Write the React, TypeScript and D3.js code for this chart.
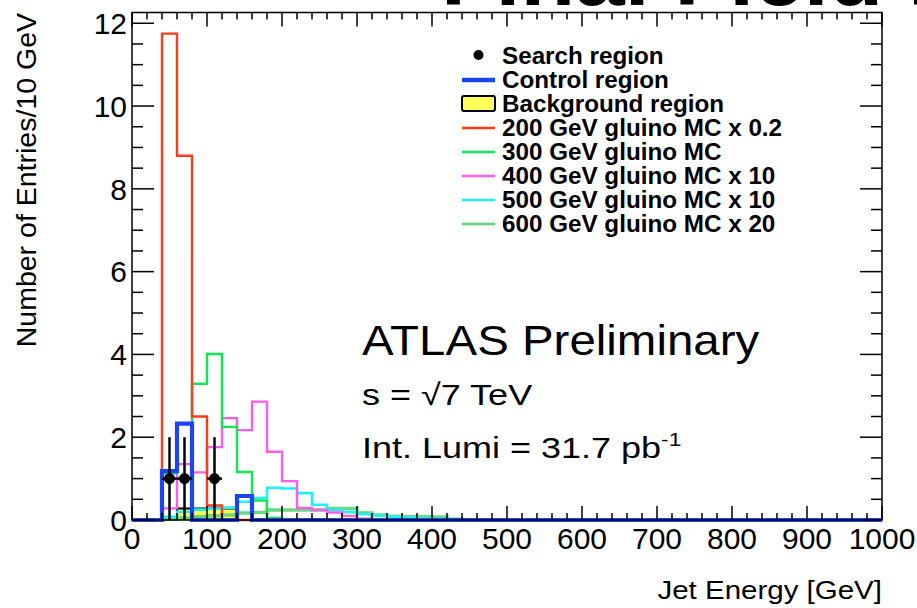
import React, { useRef, useEffect } from "react";
import * as d3 from "d3";

// histogram binning (GeV)
const binWidth = 20;
const xMax = 1000;

// bin contents, starting at the 0-20 GeV bin; bins not listed are empty
const gluino200 = [0, 0, 11.75, 8.8, 2.5, 0.35];
const gluino300 = [0, 0, 1.13, 2.33, 3.29, 4.01, 2.25, 1.16, 0.47, 0.05, 0.02];
const gluino400 = [0, 0, 0.28, 1.35, 1.15, 1.76, 2.46, 2.17, 2.86, 1.65, 0.94, 0.29, 0.24, 0.18, 0.1, 0.03, 0.02];
const gluino500 = [0, 0, 0.08, 0.2, 0.25, 0.27, 0.3, 0.44, 0.53, 0.78, 0.76, 0.65, 0.37, 0.24, 0.19, 0.14, 0.11, 0.08, 0.06, 0.04, 0.03, 0.02];
const gluino600 = [0, 0, 0.02, 0.05, 0.08, 0.1, 0.12, 0.17, 0.18, 0.24, 0.24, 0.24, 0.24, 0.28, 0.28, 0.17, 0.12, 0.09, 0.08, 0.08, 0.07, 0.02];
const controlRegion = [0, 0, 1.18, 2.33, 0, 0, 0, 0.58];
const backgroundRegion = [0, 0, 0, 0.28, 0.28, 0.28, 0.28];

// search region data points
const searchX = [50, 70, 110];
const searchY = [1, 1, 1];
const searchErr = [1, 1, 1];

const xTicks = [0, 100, 200, 300, 400, 500, 600, 700, 800, 900, 1000];
const yTicks = [0, 2, 4, 6, 8, 10, 12];

const legendLabels = [
  "Search region",
  "Control region",
  "Background region",
  "200 GeV gluino MC x 0.2",
  "300 GeV gluino MC",
  "400 GeV gluino MC x 10",
  "500 GeV gluino MC x 10",
  "600 GeV gluino MC x 20",
];

const FONT = "'Liberation Sans', Arial, Helvetica, sans-serif";

function App() {
  const ref = useRef<SVGSVGElement | null>(null);

  useEffect(() => {
    const svg = d3.select(ref.current);
    svg.selectAll("*").remove();

    const left = 132, right = 882, top = 12.5, bottom = 520;
    const x = d3.scaleLinear().domain([0, xMax]).range([left, right]);
    const y = d3.scaleLinear().domain([0, 12.26]).range([bottom, top]);

    const nBins = xMax / binWidth;
    const pad = (vals: number[]) => d3.range(nBins).map((i) => vals[i] ?? 0);

    const stepLine = d3
      .line<[number, number]>()
      .x((d) => x(d[0]))
      .y((d) => y(d[1]))
      .curve(d3.curveStepAfter);

    const stepPoints = (vals: number[]): [number, number][] => {
      const v = pad(vals);
      const pts: [number, number][] = v.map((c, i) => [i * binWidth, c]);
      pts.push([xMax, v[v.length - 1]]);
      return pts;
    };

    // big title, mostly cut off at the top of the picture
    svg
      .append("text")
      .attr("transform", "translate(441,5) scale(1.04,1)")
      .attr("font-family", FONT)
      .attr("font-weight", "bold")
      .attr("font-size", 86)
      .text("Final Field Plot");

    svg.append("clipPath").attr("id", "frame-clip")
      .append("rect").attr("x", left).attr("y", top).attr("width", right - left).attr("height", bottom - top + 3);

    const plot = svg.append("g").attr("clip-path", "url(#frame-clip)");

    // background region: yellow filled histogram
    const area = d3
      .area<[number, number]>()
      .x((d) => x(d[0]))
      .y0(y(0))
      .y1((d) => y(d[1]))
      .curve(d3.curveStepAfter);
    plot.append("path").attr("d", area(stepPoints(backgroundRegion))).attr("fill", "#ffff5a");
    plot.append("path").attr("d", stepLine(stepPoints(backgroundRegion))).attr("fill", "none")
      .attr("stroke", "#000").attr("stroke-width", 2);

    const series = [
      { vals: gluino600, color: "#5cd27a", width: 3.5, opacity: 0.9 },
      { vals: gluino500, color: "#1ef0ff", width: 2.6, opacity: 1 },
      { vals: gluino400, color: "#ff5ce8", width: 2.4, opacity: 1 },
      { vals: gluino300, color: "#10e850", width: 2.4, opacity: 1 },
      { vals: gluino200, color: "#ff3a1a", width: 2.4, opacity: 1 },
      { vals: controlRegion, color: "#1a45f0", width: 4.2, opacity: 1 },
    ];
    series.forEach((s) => {
      plot.append("path").attr("d", stepLine(stepPoints(s.vals))).attr("fill", "none")
        .attr("stroke", s.color).attr("stroke-width", s.width).attr("stroke-opacity", s.opacity);
    });

    // search region points with error bars
    const pts = plot.append("g");
    searchX.forEach((cx, i) => {
      pts.append("line").attr("x1", x(cx)).attr("x2", x(cx))
        .attr("y1", y(searchY[i] - searchErr[i])).attr("y2", y(searchY[i] + searchErr[i]))
        .attr("stroke", "#000").attr("stroke-width", 2.5);
      pts.append("line").attr("x1", x(cx - binWidth / 2)).attr("x2", x(cx + binWidth / 2))
        .attr("y1", y(searchY[i])).attr("y2", y(searchY[i]))
        .attr("stroke", "#000").attr("stroke-width", 2.5);
      pts.append("circle").attr("cx", x(cx)).attr("cy", y(searchY[i])).attr("r", 5.5).attr("fill", "#000");
    });

    // frame and ticks
    const axes = svg.append("g").attr("stroke", "#000").attr("stroke-width", 1.5);
    axes.append("rect").attr("x", left).attr("y", top).attr("width", right - left).attr("height", bottom - top)
      .attr("fill", "none");

    d3.range(0, xMax + 1, 20).forEach((v) => {
      const major = v % 100 === 0;
      const len = major ? 14 : 7;
      axes.append("line").attr("x1", x(v)).attr("x2", x(v)).attr("y1", bottom).attr("y2", bottom - len);
      axes.append("line").attr("x1", x(v)).attr("x2", x(v)).attr("y1", top).attr("y2", top + len);
    });
    d3.range(0, 12.01, 0.5).forEach((v) => {
      const major = v % 2 === 0;
      const len = major ? 22 : 11;
      axes.append("line").attr("x1", left).attr("x2", left + len).attr("y1", y(v)).attr("y2", y(v));
      axes.append("line").attr("x1", right).attr("x2", right - len).attr("y1", y(v)).attr("y2", y(v));
    });

    // tick labels
    const labels = svg.append("g").attr("font-family", FONT).attr("font-size", 30).attr("fill", "#000");
    xTicks.forEach((t) => {
      labels.append("text").attr("x", x(t)).attr("y", 549).attr("text-anchor", "middle").text(t);
    });
    yTicks.forEach((t) => {
      labels.append("text").attr("x", 127).attr("y", y(t)).attr("dy", "0.36em").attr("text-anchor", "end").text(t);
    });

    // axis titles
    svg.append("text").attr("x", right).attr("y", 599).attr("text-anchor", "end")
      .attr("font-family", FONT).attr("font-size", 25)
      .attr("transform", `translate(${right},0) scale(1.18,1) translate(${-right},0)`)
      .text("Jet Energy [GeV]");
    svg.append("text").attr("transform", "translate(36,13) rotate(-90)").attr("text-anchor", "end")
      .attr("font-family", FONT).attr("font-size", 28.5).text("Number of Entries/10 GeV");

    // legend
    const legend = svg.append("g").attr("font-family", FONT);
    const lx0 = 462, lx1 = 495, tx = 502;
    const legendColors = ["#000", "#1a45f0", "#000", "#ff3a1a", "#10e850", "#ff5ce8", "#1ef0ff", "#5cd27a"];
    legendLabels.forEach((label, i) => {
      const base = 64 + i * 24;
      const my = base - 8;
      if (i === 0) {
        legend.append("circle").attr("cx", (lx0 + lx1) / 2).attr("cy", my - 1).attr("r", 5).attr("fill", "#000");
      } else if (i === 1) {
        legend.append("line").attr("x1", lx0).attr("x2", lx1).attr("y1", my).attr("y2", my)
          .attr("stroke", legendColors[i]).attr("stroke-width", 4.5);
      } else if (i === 2) {
        legend.append("rect").attr("x", lx0).attr("y", my - 8).attr("width", lx1 - lx0).attr("height", 15)
          .attr("rx", 2).attr("fill", "#ffff5a").attr("stroke", "#000").attr("stroke-width", 2);
      } else {
        legend.append("line").attr("x1", lx0).attr("x2", lx1).attr("y1", my).attr("y2", my)
          .attr("stroke", legendColors[i]).attr("stroke-width", 2.5);
      }
      legend.append("text").attr("x", tx).attr("y", base).attr("font-weight", "bold").attr("font-size", 24)
        .attr("transform", `translate(${tx},0) scale(1.01,1) translate(${-tx},0)`)
        .text(label);
    });

    // ATLAS labels
    const atlas = svg.append("g").attr("font-family", FONT).attr("fill", "#000");
    atlas.append("text").attr("transform", "translate(362,355) scale(1.13,1)").attr("font-size", 42)
      .text("ATLAS Preliminary");
    atlas.append("text").attr("transform", "translate(362,405) scale(1.2,1)").attr("font-size", 30)
      .text("s = \u221A7 TeV");
    const lumi = atlas.append("text").attr("transform", "translate(362,458) scale(1.2,1)").attr("font-size", 30);
    lumi.append("tspan").text("Int. Lumi = 31.7 pb");
    lumi.append("tspan").attr("font-size", 19).attr("dy", -12).text("-1");
  }, []);

  return (
    <svg
      ref={ref}
      width={917}
      height={608}
      style={{ position: "absolute", left: 0, top: 0, background: "#fff" }}
    ></svg>
  );
}

export default App;
